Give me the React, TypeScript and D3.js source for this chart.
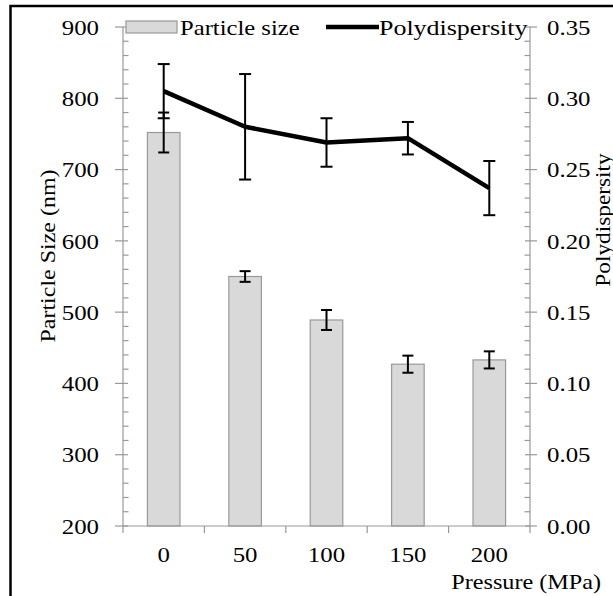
import React from 'react';
import * as d3 from 'd3';

const pressures = ['0', '50', '100', '150', '200'];
const particleSize = [752, 550, 489, 427, 433];
const particleSizeErr = [28, 7.5, 14, 12, 12];
const polydispersity = [0.305, 0.28, 0.269, 0.272, 0.237];
const polydispersityErr = [0.019, 0.037, 0.017, 0.0114, 0.019];
const leftTicks = [200, 300, 400, 500, 600, 700, 800, 900];
const rightTicks = [0, 0.05, 0.1, 0.15, 0.2, 0.25, 0.3, 0.35];

const FONT = "'Liberation Serif', 'Times New Roman', serif";
const AXIS = '#999999';
const SX = 1.13;

type TP = { x: number; y: number; anchor?: 'start' | 'middle' | 'end'; sx?: number; rot?: number; dy?: string; children: React.ReactNode };
function T({ x, y, anchor = 'start', sx = SX, rot = 0, dy, children }: TP) {
  return (
    <g transform={`translate(${x},${y}) rotate(${rot}) scale(${sx},1)`}>
      <text x={0} y={0} dy={dy} textAnchor={anchor} style={{ fontFamily: FONT, fontSize: 22 }} fill="#000">{children}</text>
    </g>
  );
}

export default function App() {
  const x0 = 123, x1 = 530, yTop = 27, yBot = 526;
  const x = d3.scaleBand<string>().domain(pressures).range([x0, x1]).paddingInner(0.6).paddingOuter(0.3);
  const yL = d3.scaleLinear().domain([200, 900]).range([yBot, yTop]);
  const yR = d3.scaleLinear().domain([0, 0.35]).range([yBot, yTop]);
  const step = x.step();
  const bw = x.bandwidth();
  const cx = (p: string) => (x(p) as number) + bw / 2;

  const leftMinor = d3.range(200, 901, 20).filter((v) => v % 100 !== 0);
  const rightMinor = d3.range(0, 36, 1).filter((v) => v % 5 !== 0).map((v) => v / 100);
  const xTickPos = d3.range(0, pressures.length + 1).map((i) => x0 + i * step);

  const line = d3.line<number>().x((_, i) => cx(pressures[i])).y((d) => yR(d));

  return (
    <svg width={613} height={596} style={{ position: 'absolute', left: 0, top: 0, background: '#fff' }}>
      <rect x={0} y={0} width={613} height={596} fill="#fff" />
      <rect x={10.5} y={6} width={700} height={700} fill="none" stroke="#000" strokeWidth={2.5} />

      {pressures.map((p, i) => (
        <rect key={p} x={x(p)} y={yL(particleSize[i])} width={bw} height={yBot - yL(particleSize[i])}
          fill="#d9d9d9" stroke="#999999" strokeWidth={1.2} />
      ))}

      <line x1={x0} x2={x0} y1={yTop} y2={yBot} stroke={AXIS} strokeWidth={1.2} />
      <line x1={x1} x2={x1} y1={yTop} y2={yBot} stroke={AXIS} strokeWidth={1.2} />
      <line x1={x0} x2={x1} y1={yBot} y2={yBot} stroke={AXIS} strokeWidth={1.2} />
      {leftTicks.map((v) => (
        <g key={'lt' + v}>
          <line x1={x0 - 8} x2={x0 + 5} y1={yL(v)} y2={yL(v)} stroke={AXIS} strokeWidth={1.2} />
          <T x={99} y={yL(v)} dy="0.35em" anchor="end">{v}</T>
        </g>
      ))}
      {leftMinor.map((v) => (
        <line key={'lm' + v} x1={x0} x2={x0 + 5.5} y1={yL(v)} y2={yL(v)} stroke={AXIS} strokeWidth={1.2} />
      ))}
      {rightTicks.map((v) => (
        <g key={'rt' + v}>
          <line x1={x1 - 5} x2={x1 + 7} y1={yR(v)} y2={yR(v)} stroke={AXIS} strokeWidth={1.2} />
          <T x={547} y={yR(v)} dy="0.35em">{v.toFixed(2)}</T>
        </g>
      ))}
      {rightMinor.map((v) => (
        <line key={'rm' + v} x1={x1 - 5.5} x2={x1} y1={yR(v)} y2={yR(v)} stroke={AXIS} strokeWidth={1.2} />
      ))}
      {xTickPos.map((px, i) => (
        <line key={'xt' + i} x1={px} x2={px} y1={yBot} y2={yBot + 7} stroke={AXIS} strokeWidth={1.2} />
      ))}
      {pressures.map((p) => (
        <T key={'xl' + p} x={cx(p)} y={562} anchor="middle">{p}</T>
      ))}
      <T x={601} y={589} anchor="end" sx={1.1}>Pressure (MPa)</T>
      <T x={55} y={256} rot={-90} anchor="middle" sx={1.09}>Particle Size (nm)</T>
      <T x={610} y={220} rot={-90} anchor="middle" sx={1.06}>Polydispersity</T>

      {pressures.map((p, i) => {
        const c = cx(p);
        const hi = yL(particleSize[i] + particleSizeErr[i]);
        const lo = yL(particleSize[i] - particleSizeErr[i]);
        return (
          <g key={'pe' + p} stroke="#000" strokeWidth={2}>
            <line x1={c} x2={c} y1={hi} y2={lo} />
            <line x1={c - 5.5} x2={c + 5.5} y1={hi} y2={hi} />
            <line x1={c - 5.5} x2={c + 5.5} y1={lo} y2={lo} />
          </g>
        );
      })}

      <path d={line(polydispersity) || ''} fill="none" stroke="#000" strokeWidth={4.5} strokeLinejoin="round" />
      {pressures.map((p, i) => {
        const c = cx(p);
        const hi = yR(polydispersity[i] + polydispersityErr[i]);
        const lo = yR(polydispersity[i] - polydispersityErr[i]);
        return (
          <g key={'de' + p} stroke="#000" strokeWidth={2}>
            <line x1={c} x2={c} y1={hi} y2={lo} />
            <line x1={c - 6} x2={c + 6} y1={hi} y2={hi} />
            <line x1={c - 6} x2={c + 6} y1={lo} y2={lo} />
          </g>
        );
      })}

      <rect x={126} y={21} width={51} height={12} fill="#d9d9d9" stroke="#999999" strokeWidth={1.2} />
      <T x={180} y={27} dy="0.35em" sx={1.12}>Particle size</T>
      <line x1={326} x2={379} y1={27} y2={27} stroke="#000" strokeWidth={4.5} />
      <T x={379} y={27} dy="0.35em" sx={1.18}>Polydispersity</T>
    </svg>
  );
}
